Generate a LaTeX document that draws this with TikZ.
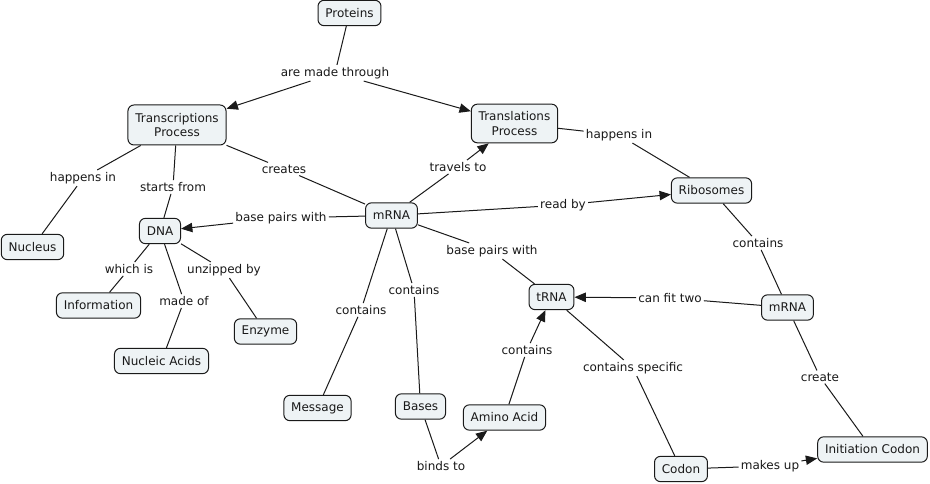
\documentclass[tikz,border=0pt]{standalone}
\usepackage{fontspec}
\setmainfont{DejaVu Sans}
\usetikzlibrary{arrows.meta}
\definecolor{cfill}{HTML}{EEF3F5}
\definecolor{cline}{HTML}{1A1A1A}
\begin{document}
\begin{tikzpicture}[x=0.75pt,y=-0.75pt,
  txt/.style={font=\fontsize{9}{10.8}\selectfont, text=black!90},
  concept/.style={txt, draw=cline, fill=cfill, rounded corners=4.5pt, line width=0.75pt,
    inner xsep=5.5pt, inner ysep=0pt, minimum height=19pt, align=center},
  phrase/.style={txt, inner sep=1.5pt},
  link/.style={line width=0.75pt, draw=cline},
  arr/.style={link, -{Triangle[length=8.5pt,width=7pt]}}]
\useasboundingbox[fill=white] (0,0) rectangle (930,484);

% concepts
\node[concept] (prot) at (349.5,13) {Proteins};
\node[concept, minimum height=30pt] (trans) at (177,125) {Transcriptions\\Process};
\node[concept, minimum height=29pt] (transl) at (514.5,123.5) {Translations\\Process};
\node[concept] (nuc) at (32.5,247) {Nucleus};
\node[concept] (dna) at (160,231) {DNA};
\node[concept] (mrna) at (391.5,215.5) {mRNA};
\node[concept] (ribo) at (711.5,190.5) {Ribosomes};
\node[concept] (info) at (98.5,305.5) {Information};
\node[concept] (enz) at (265.5,331.5) {Enzyme};
\node[concept] (nucl) at (161.5,361) {Nucleic Acids};
\node[concept] (msg) at (317.5,408) {Message};
\node[concept] (bases) at (420.5,406.5) {Bases};
\node[concept] (amino) at (504.5,417.5) {Amino Acid};
\node[concept] (trna) at (551.5,297) {tRNA};
\node[concept] (mrnab) at (787.5,307.5) {mRNA};
\node[concept] (init) at (872.5,449.5) {Initiation Codon};
\node[concept] (codon) at (681,469) {Codon};

% linking phrases
\node[phrase] (pmade) at (335,73) {are made through};
\node[phrase] (phap1) at (83,178) {happens in};
\node[phrase] (pstart) at (173,187) {starts from};
\node[phrase] (pcreates) at (284,169) {creates};
\node[phrase] (pbp1) at (281,218) {base pairs with};
\node[phrase] (ptravels) at (458,167) {travels to};
\node[phrase] (pread) at (563,205) {read by};
\node[phrase] (phap2) at (619,135) {happens in};
\node[phrase] (pcont1) at (758,243) {contains};
\node[phrase] (pwhich) at (129,269) {which is};
\node[phrase] (punz) at (224,270) {unzipped by};
\node[phrase] (pmadeof) at (184,301) {made of};
\node[phrase] (pcont2) at (361,310) {contains};
\node[phrase] (pcont3) at (414,290) {contains};
\node[phrase] (pbp2) at (492,251) {base pairs with};
\node[phrase] (pfit) at (670,298) {can fit two};
\node[phrase] (pcont4) at (527,350) {contains};
\node[phrase] (pspec) at (633,368) {contains specific};
\node[phrase] (pcreate) at (820,377) {create};
\node[phrase] (pbinds) at (441,466) {binds to};
\node[phrase] (pmakes) at (770,466) {makes up};

% connectors
\draw[link] (prot) -- (pmade);
\draw[arr] (pmade) -- (trans);
\draw[arr] (pmade) -- (transl);

\draw[link] (trans) -- (phap1);
\draw[link] (phap1) -- (nuc);
\draw[link] (trans) -- (pstart);
\draw[link] (pstart) -- (dna);
\draw[link] (trans) -- (pcreates);
\draw[link] (pcreates) -- (mrna);

\draw[link] (mrna) -- (pbp1);
\draw[arr] (pbp1) -- (dna);
\draw[link] (mrna) -- (ptravels);
\draw[arr] (ptravels) -- (transl);
\draw[link] (mrna) -- (pread);
\draw[arr] (pread) -- (ribo);

\draw[link] (transl) -- (phap2);
\draw[link] (phap2) -- (ribo);
\draw[link] (ribo) -- (pcont1);
\draw[link] (pcont1) -- (mrnab);

\draw[link] (dna) -- (pwhich);
\draw[link] (pwhich) -- (info);
\draw[link] (dna) -- (pmadeof);
\draw[link] (pmadeof) -- (nucl);
\draw[link] (dna) -- (punz);
\draw[link] (punz) -- (enz);

\draw[link] (mrna) -- (pcont2);
\draw[link] (pcont2) -- (msg);
\draw[link] (mrna) -- (pcont3);
\draw[link] (pcont3) -- (bases);
\draw[link] (mrna) -- (pbp2);
\draw[link] (pbp2) -- (trna);

\draw[link] (mrnab) -- (pfit);
\draw[arr] (pfit) -- (trna);
\draw[link] (trna) -- (pspec);
\draw[link] (pspec) -- (codon);
\draw[link] (amino) -- (pcont4);
\draw[arr] (pcont4) -- (trna);
\draw[link] (bases) -- (pbinds);
\draw[arr] (pbinds) -- (amino);
\draw[link] (mrnab) -- (pcreate);
\draw[link] (pcreate) -- (init);
\draw[link] (codon) -- (pmakes);
\draw[arr] (pmakes) -- (init);
\end{tikzpicture}
\end{document}
